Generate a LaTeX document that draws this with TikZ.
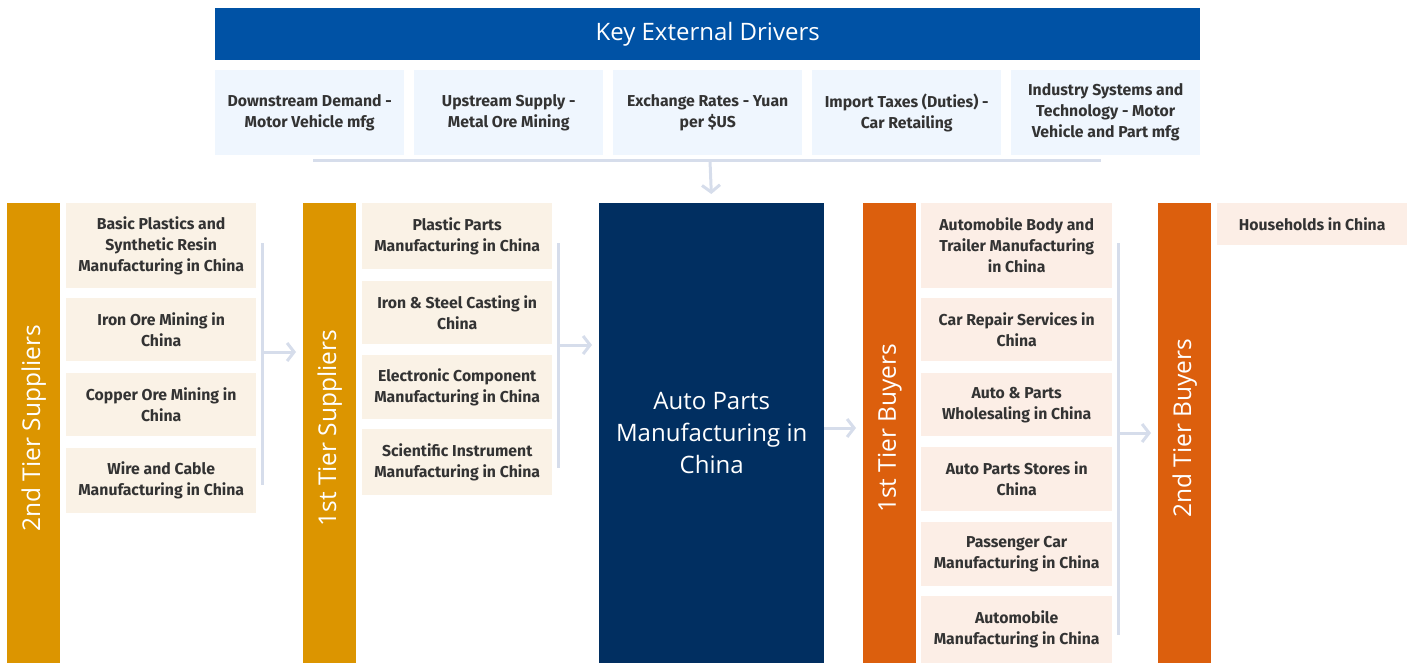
\documentclass[tikz,border=0pt]{standalone}
\usepackage{fontspec}
\setmainfont{Fira Sans}
\newfontfamily\headfont{Open Sans}
\usetikzlibrary{arrows.meta, positioning}
\definecolor{drvblue}{RGB}{0, 82, 165}
\definecolor{drvbg}{RGB}{239, 246, 254}
\definecolor{coreblue}{RGB}{1, 47, 97}
\definecolor{supgold}{RGB}{220, 149, 0}
\definecolor{supbg}{RGB}{250, 242, 230}
\definecolor{buyorange}{RGB}{220, 95, 13}
\definecolor{buybg}{RGB}{252, 238, 230}
\definecolor{ink}{RGB}{51, 51, 51}
\definecolor{linkgrey}{RGB}{214, 221, 235}

\begin{document}
\begin{tikzpicture}[x=1pt, y=-1pt,
    cell/.style   = {anchor=north west, inner sep=0pt, align=center, font=\fontsize{15.8}{21}\selectfont\bfseries\color{ink}},
    lift/.style   = {execute at begin node={\rule{0pt}{21pt}}},
    drv/.style    = {cell, lift, fill=drvbg, minimum width=189pt, minimum height=85pt},
    sup/.style    = {cell, lift, fill=supbg, minimum width=190pt},
    buy/.style    = {cell, lift, fill=buybg, minimum width=191pt},
    bar/.style    = {anchor=north west, inner sep=0pt, minimum width=53pt, minimum height=460pt},
    barlbl/.style = {rotate=90, font=\headfont\fontsize{24.5}{28}\selectfont\color{white}},
    link/.style   = {color=linkgrey, line width=3pt},
    flow/.style   = {link, -{Straight Barb[length=7pt, width=18pt]}, shorten >=7pt},
  ]
    \useasboundingbox (0,0) rectangle (1415,663);

    % --- external drivers ---
    \node[anchor=north west, fill=drvblue, minimum width=985pt, minimum height=52pt, inner sep=0pt,
          font=\headfont\fontsize{24}{28}\selectfont\color{white}] (head) at (215,8) {Key External Drivers};
    \node[drv] (drv1) at (215,70)  {Downstream Demand -\\Motor Vehicle mfg};
    \node[drv] (drv2) at (414,70)  {Upstream Supply -\\Metal Ore Mining};
    \node[drv] (drv3) at (613,70)  {Exchange Rates - Yuan\\per \$US};
    \node[drv] (drv4) at (812,70)  {Import Taxes (Duties) -\\Car Retailing};
    \node[drv] (drv5) at (1011,70) {Industry Systems and\\Technology - Motor\\Vehicle and Part mfg};

    \coordinate (drvL) at (313,161);
    \coordinate (drvR) at (1101,161);
    \coordinate (drvM) at (710,161);
    \draw[link] (drvL) -- (drvR);

    % --- 2nd tier suppliers ---
    \node[bar, fill=supgold] (sup2) at (7,203) {};
    \node[barlbl] at ([yshift=5pt]sup2.center) {2nd Tier Suppliers};
    \node[sup, minimum height=85pt] (sup2a) at (66,203) {Basic Plastics and\\Synthetic Resin\\Manufacturing in China};
    \node[sup, minimum height=63pt] (sup2b) at (66,298) {Iron Ore Mining in\\China};
    \node[sup, minimum height=63pt] (sup2c) at (66,373) {Copper Ore Mining in\\China};
    \node[sup, minimum height=65pt] (sup2d) at (66,448) {Wire and Cable\\Manufacturing in China};

    \coordinate (sup2top) at (262,243);
    \coordinate (sup2bot) at (262,485);
    \coordinate (sup2out) at (262,352);
    \draw[link] (sup2top) -- (sup2bot);

    % --- 1st tier suppliers ---
    \node[bar, fill=supgold] (sup1) at (303,203) {};
    \node[barlbl] at ([yshift=5pt]sup1.center) {1st Tier Suppliers};
    \node[sup, minimum height=66pt] (sup1a) at (362,203) {Plastic Parts\\Manufacturing in China};
    \node[sup, minimum height=63pt] (sup1b) at (362,281) {Iron \& Steel Casting in\\China};
    \node[sup, minimum height=64pt] (sup1c) at (362,355) {Electronic Component\\Manufacturing in China};
    \node[sup, minimum height=66pt] (sup1d) at (362,429) {Scientific Instrument\\Manufacturing in China};

    \coordinate (sup1top) at (558,243);
    \coordinate (sup1bot) at (558,468);
    \coordinate (sup1out) at (558,345);
    \draw[link] (sup1top) -- (sup1bot);

    % --- industry ---
    \node[anchor=north west, fill=coreblue, minimum width=225pt, minimum height=460pt, inner sep=0pt,
          align=center, font=\headfont\fontsize{24}{32}\selectfont\color{white}] (core) at (599,203)
      {Auto Parts\\Manufacturing in\\China};
    \coordinate (coreout) at (core.east |- 0,428);

    % --- 1st tier buyers ---
    \node[bar, fill=buyorange] (buy1) at (863,203) {};
    \node[barlbl] at ([yshift=5pt]buy1.center) {1st Tier Buyers};
    \node[buy, minimum height=85pt] (buy1a) at (921,203) {Automobile Body and\\Trailer Manufacturing\\in China};
    \node[buy, minimum height=63pt] (buy1b) at (921,298) {Car Repair Services in\\China};
    \node[buy, minimum height=63pt] (buy1c) at (921,373) {Auto \& Parts\\Wholesaling in China};
    \node[buy, minimum height=64pt] (buy1d) at (921,447) {Auto Parts Stores in\\China};
    \node[buy, minimum height=64pt] (buy1e) at (921,522) {Passenger Car\\Manufacturing in China};
    \node[buy, minimum height=67pt] (buy1f) at (921,596) {Automobile\\Manufacturing in China};

    \coordinate (buy1top) at (1118,243);
    \coordinate (buy1bot) at (1118,635);
    \coordinate (buy1out) at (1118,433);
    \draw[link] (buy1top) -- (buy1bot);

    % --- 2nd tier buyers ---
    \node[bar, fill=buyorange] (buy2) at (1158,203) {};
    \node[barlbl] at ([yshift=5pt]buy2.center) {2nd Tier Buyers};
    \node[cell, fill=buybg, minimum width=190pt, minimum height=42pt] (buy2a) at (1217,203) {Households in China};

    % --- flows ---
    \draw[flow, shorten >=9pt] (drvM) -- (core.north);
    \draw[flow] (sup2out) -- (sup1.west |- sup2out);
    \draw[flow] (sup1out) -- (core.west |- sup1out);
    \draw[flow] (coreout) -- (buy1.west |- coreout);
    \draw[flow] (buy1out) -- (buy2.west |- buy1out);

  \end{tikzpicture}
\end{document}
